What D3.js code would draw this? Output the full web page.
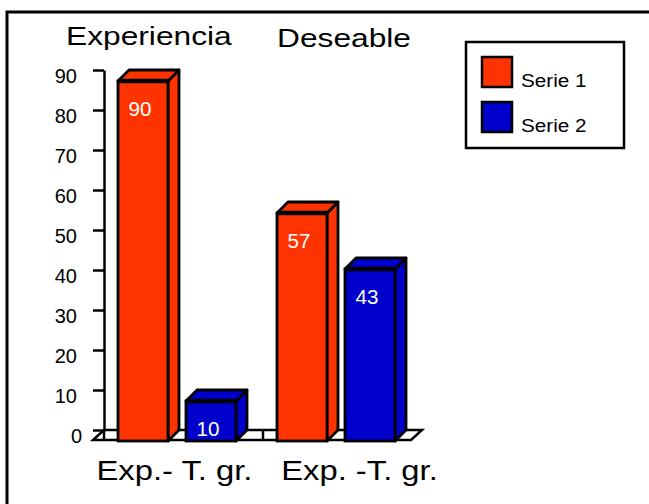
<!DOCTYPE html>
<html>
<head>
<meta charset="utf-8">
<script src="https://cdn.jsdelivr.net/npm/d3@7"></script>
<style>
  body { margin: 0; background: #fff; }
  text { font-family: "Liberation Sans", Arial, sans-serif; }
</style>
</head>
<body>
<div id="chart"></div>
<script>
// DATA
const categories = ["Exp.- T. gr.", "Exp. -T. gr."];
const groupTitles = ["Experiencia", "Deseable"];
const series = ["Serie 1", "Serie 2"];
const serie1 = [90, 57];
const serie2 = [10, 43];
const colors = ["#FF3300", "#0000CC"];
const yTicks = [0, 10, 20, 30, 40, 50, 60, 70, 80, 90];

const width = 649, height = 504;
const depth = 11;   // 3d offset of the bars / floor

const svg = d3.select("#chart").append("svg")
    .attr("width", width)
    .attr("height", height)
    .style("background", "#fff");

// stretch text horizontally around its anchor (original chart is a bit wide)
function stretch(sel, sx) {
  sel.attr("transform", function() {
    const x = +this.getAttribute("x") || 0;
    return `translate(${x * (1 - sx)},0) scale(${sx},1)`;
  });
}

// outer frame
svg.append("rect")
    .attr("x", 7).attr("y", 12)
    .attr("width", 700).attr("height", 600)
    .attr("fill", "none").attr("stroke", "#000").attr("stroke-width", 3);

// SCALES
const y = d3.scaleLinear().domain([0, 90]).range([430, 70]);
const x0 = d3.scaleBand().domain(categories).range([104, 422]);
const x1 = d3.scaleBand().domain(series).range([25, 143]).paddingInner(18 / 68);

// floor
const y0 = y(0);
const [fx0, fx1] = x0.range();
svg.append("path")
    .attr("d", `M${fx0},${y0} L${fx1},${y0} L${fx1 - depth},${y0 + 10} L${fx0 - depth},${y0 + 10} Z`)
    .attr("fill", "#fff").attr("stroke", "#000").attr("stroke-width", 2.5)
    .attr("stroke-linejoin", "miter");

svg.selectAll(".floor-div")
    .data(categories)
    .join("line")
    .attr("class", "floor-div")
    .attr("x1", d => x0(d)).attr("x2", d => x0(d))
    .attr("y1", y0).attr("y2", y0 + 10)
    .attr("stroke", "#000").attr("stroke-width", 2.5);

// AXIS
const yAxis = d3.axisLeft(y).tickValues(yTicks).tickSize(11).tickSizeOuter(0).tickPadding(16);
const yAxisGroup = svg.append("g")
    .attr("transform", `translate(${fx0},0)`)
    .call(yAxis);
yAxisGroup.select(".domain").attr("stroke-width", 2.5);
yAxisGroup.selectAll(".tick line").attr("stroke-width", 2.5);
yAxisGroup.selectAll(".tick text")
    .attr("font-size", 20)
    .attr("font-family", "Liberation Sans, Arial, sans-serif")
    .attr("fill", "#000")
    .attr("dy", "0.6em")
    .attr("x", d => d === 0 ? -22 : -27);

// BARS
const bars = [];
categories.forEach((c, i) => {
  bars.push({cat: c, s: series[0], v: serie1[i], color: colors[0]});
  bars.push({cat: c, s: series[1], v: serie2[i], color: colors[1]});
});

const barG = svg.selectAll(".bar")
    .data(bars)
    .join("g")
    .attr("class", "bar");

barG.each(function(d) {
  const g = d3.select(this);
  const bx = x0(d.cat) + x1(d.s), w = x1.bandwidth(), yt = y(d.v);
  // side
  g.append("path")
      .attr("d", `M${bx + w - depth},${yt + depth} L${bx + w},${yt} L${bx + w},${y0} L${bx + w - depth},${y0 + depth} Z`)
      .attr("fill", d.color).attr("stroke", "#000").attr("stroke-width", 2.8).attr("stroke-linejoin", "round");
  // top
  g.append("path")
      .attr("d", `M${bx - depth},${yt + depth} L${bx},${yt} L${bx + w},${yt} L${bx + w - depth},${yt + depth} Z`)
      .attr("fill", d.color).attr("stroke", "#000").attr("stroke-width", 2.8).attr("stroke-linejoin", "round");
  // front
  g.append("rect")
      .attr("x", bx - depth).attr("y", yt + depth)
      .attr("width", w).attr("height", y0 - yt)
      .attr("fill", d.color).attr("stroke", "#000").attr("stroke-width", 2.8);
  g.append("line")
      .attr("x1", bx - depth).attr("x2", bx + w - depth)
      .attr("y1", yt + depth).attr("y2", yt + depth)
      .attr("stroke", "#000").attr("stroke-width", 4.5);
  // value label
  g.append("text")
      .attr("x", bx - depth + w / 2 - 3)
      .attr("y", yt + depth + 35)
      .attr("text-anchor", "middle")
      .attr("font-size", 20)
      .attr("fill", "#fff")
      .text(d.v)
      .call(stretch, 1.03);
});

// CATEGORY LABELS
const labelShift = [2, 28];
svg.selectAll(".cat-label")
    .data(categories)
    .join("text")
    .attr("class", "cat-label")
    .attr("x", (d, i) => x0(d) - depth + x0.bandwidth() / 2 + labelShift[i])
    .attr("y", 480)
    .attr("text-anchor", "middle")
    .attr("font-size", 28)
    .attr("fill", "#000")
    .text(d => d)
    .call(stretch, 1.17);

// GROUP TITLES
svg.selectAll(".grp-title")
    .data(groupTitles)
    .join("text")
    .attr("class", "grp-title")
    .attr("x", (d, i) => [66, 277][i])
    .attr("y", (d, i) => [45, 47][i])
    .attr("font-size", 26)
    .attr("fill", "#000")
    .text(d => d)
    .call(stretch, 1.22);

// LEGEND
const legend = svg.append("g");
legend.append("rect")
    .attr("x", 466).attr("y", 42)
    .attr("width", 158).attr("height", 106)
    .attr("fill", "#fff").attr("stroke", "#000").attr("stroke-width", 2.5);

const items = legend.selectAll(".item")
    .data(series)
    .join("g")
    .attr("class", "item")
    .attr("transform", (d, i) => `translate(482,${57 + i * 45})`);

items.append("rect")
    .attr("width", 30).attr("height", 30)
    .attr("fill", (d, i) => colors[i])
    .attr("stroke", "#000").attr("stroke-width", 2.5);

items.append("text")
    .attr("x", 39).attr("y", 30)
    .attr("font-size", 19)
    .attr("fill", "#000")
    .text(d => d)
    .call(stretch, 1.09);
</script>
</body>
</html>
